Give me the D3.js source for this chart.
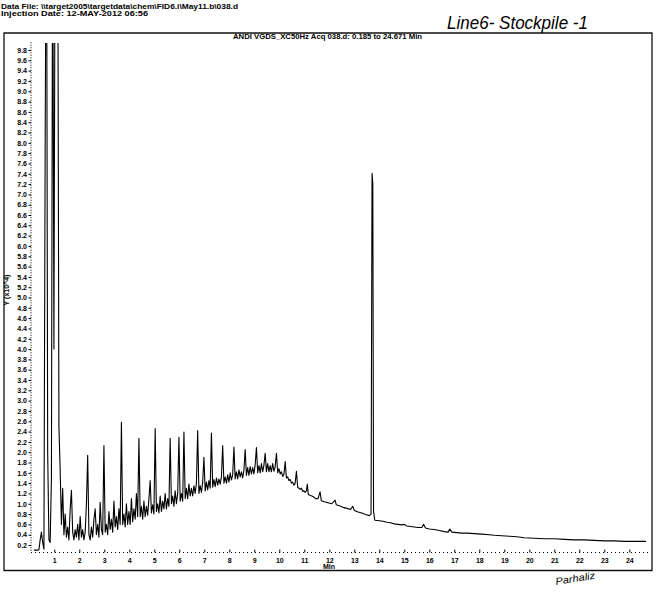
<!DOCTYPE html>
<html>
<head>
<meta charset="utf-8">
<script src="https://cdnjs.cloudflare.com/ajax/libs/d3/7.8.5/d3.min.js"></script>
<style>
body{margin:0;background:#fff;}
svg{display:block;font-family:"Liberation Sans",Arial,sans-serif;}
</style>
</head>
<body>
<div id="container"></div>
<script>
// header / labels
var headerLines = [
	'Data File: \\\\target2005\\targetdata\\chem\\FID6.i\\May11.b\\038.d',
	'Injection Date: 12-MAY-2012 06:56'
];
var runTitle = 'ANDI VGDS_XC50Hz Acq 038.d:  0.185 to 24.671 Min';
var sampleNote = 'Line6- Stockpile -1';
var signNote = 'Parhaliz';

// tick values
var yTicks = [0.2,0.4,0.6,0.8,1.0,1.2,1.4,1.6,1.8,2.0,2.2,2.4,2.6,2.8,3.0,3.2,3.4,3.6,3.8,4.0,
	4.2,4.4,4.6,4.8,5.0,5.2,5.4,5.6,5.8,6.0,6.2,6.4,6.6,6.8,7.0,7.2,7.4,7.6,7.8,8.0,
	8.2,8.4,8.6,8.8,9.0,9.2,9.4,9.6,9.8];
var xTicks = [1,2,3,4,5,6,7,8,9,10,11,12,13,14,15,16,17,18,19,20,21,22,23,24];

// early part of the run, one reading every 0.05 min from 0.185 (x10^4)
var earlyStart = 0.185, earlyStep = 0.05;
var earlyAbund = [
	0.10,0.10,0.10,0.10,0.11,0.30,0.45,0.25,0.12,8.00,
	14.0,2.00,0.30,0.25,1.50,13.0,4.00,13.0,12.0,13.0,
	2.50,1.65,0.60,1.30,0.40,0.80,0.35,0.55,0.30,0.90,
	1.26,0.45,0.30,0.50,0.35,0.60,0.30,0.75,0.35,0.50,
	0.30,0.45,1.00,1.94,0.40,0.30,0.55,0.35,0.70,0.90,
	0.40,0.60,0.35,1.03,0.50,0.40,2.13,0.45,0.60,0.40,
	0.85,0.50,0.70,0.45,1.05,0.55,0.75,0.50,0.90,0.60,
	2.58,0.60,0.80,0.55,1.00,0.60,0.85,0.60,1.10,0.65,
	0.90,0.70,1.20,0.75,2.27,0.75,0.95,0.70,1.05,0.75,
	0.95,0.78,1.10,1.45,0.82,0.98,0.80,2.46,0.85,1.00,
	0.82,1.15,0.85,1.05,0.90,1.20,0.90,1.10,0.95,2.27,
	1.00,1.15,0.95,1.25,1.00,1.20,2.29,1.05,1.20,1.05,
	2.39,1.10,1.30,1.10,1.38,1.15,1.30,1.15,1.35,1.20,
	1.40,2.42,1.20,1.35,1.22,1.42,1.90,1.25,1.42,1.27,
	1.45,1.30,2.37,1.32,1.47,1.33,1.50,1.36,1.48,1.38,
	1.52,2.13,1.40,1.52,1.40,1.56,1.42,1.60,1.46,1.56,
	2.10,1.48,1.62,1.48,1.66,1.52,1.62,1.50,1.66,2.05,
	1.55,1.70,1.55,1.72,1.58,1.70,1.58,1.76,2.09,1.60,
	1.74,1.60,1.78,1.62,1.75,1.98,1.62,1.78,1.62,1.74,
	1.62,1.78,1.63,1.72,1.98,1.60,1.68,1.58,1.62,1.53,
	1.57,1.82,1.50,1.52,1.45,1.47,1.40,1.42,1.36,1.40,
	1.63,1.32,1.30,1.28,1.30,1.24,1.25
];

// later part of the run, [min, abundance x10^4]
var lateTrace = [
	[11.035,1.22],[11.085,1.25],[11.12,1.38],[11.16,1.18],[11.25,1.16],[11.35,1.14],
	[11.45,1.10],[11.55,1.10],[11.63,1.23],[11.68,1.06],[11.80,1.04],[11.95,1.02],
	[12.10,1.00],[12.23,1.07],[12.28,0.98],[12.40,0.96],[12.55,0.93],[12.70,0.91],
	[12.85,0.89],[12.94,0.95],[13.00,0.87],[13.15,0.84],[13.30,0.82],[13.45,0.79],
	[13.60,0.77],[13.67,0.80],[13.71,7.41],[13.74,7.20],[13.77,0.85],[13.82,0.68],
	[14.00,0.67],[14.15,0.66],[14.30,0.64],[14.45,0.63],[14.60,0.61],[14.75,0.60],
	[14.90,0.59],[15.00,0.60],[15.10,0.57],[15.25,0.56],[15.40,0.55],[15.55,0.54],
	[15.70,0.54],[15.77,0.60],[15.85,0.53],[16.00,0.51],[16.20,0.50],[16.40,0.48],
	[16.60,0.46],[16.75,0.45],[16.82,0.51],[16.90,0.45],[17.10,0.44],[17.30,0.43],
	[17.50,0.43],[17.80,0.42],[18.10,0.41],[18.40,0.40],[18.60,0.39],[18.90,0.38],
	[19.20,0.37],[19.50,0.36],[19.80,0.34],[20.20,0.33],[20.60,0.32],[21.00,0.32],
	[21.40,0.31],[21.80,0.30],[22.20,0.30],[22.60,0.29],[23.00,0.28],[23.40,0.28],
	[23.80,0.27],[24.20,0.27],[24.671,0.27]
];

var init = function(){

	return {

		w:657,
		h:592,

		data:[],

		processData:function(){
			var self = vis;

			earlyAbund.forEach(function(v,i){
				self.data.push({ t:earlyStart +i*earlyStep, v:v });
			});
			lateTrace.forEach(function(d){
				self.data.push({ t:d[0], v:d[1] });
			});

			self.generate();
		},
		generate:function(){
			var self = vis;

			var x = d3.scaleLinear().domain([0,24]).range([29.3,629.3]),
				y = d3.scaleLinear().domain([0.2,9.8]).range([545,50]);

			self.svg = d3.select('#container').append('svg')
				.attr('width',self.w)
				.attr('height',self.h);

			// frame
			var frame = self.svg.append('g')
				.attr('fill','none')
				.attr('stroke','#111')
				.attr('stroke-width',1.3);
			frame.append('path').attr('d','M4,33H652V570.5H4Z');

			// header text
			self.svg.selectAll('text.header')
				.data(headerLines)
				.enter().append('text')
				.classed('header',true)
				.attr('x',1)
				.attr('y',function(d,i){ return 8.5 +i*7.8; })
				.attr('textLength',function(d,i){ return i ? 147 : 237; })
				.attr('lengthAdjust','spacingAndGlyphs')
				.style('font-size','7.5px')
				.style('font-weight','bold')
				.text(function(d){ return d; });

			self.svg.append('text')
				.attr('x',233)
				.attr('y',38.5)
				.attr('textLength',189)
				.attr('lengthAdjust','spacingAndGlyphs')
				.style('font-size','7px')
				.style('font-weight','bold')
				.text(runTitle);

			self.svg.append('text')
				.attr('x',447)
				.attr('y',29)
				.attr('textLength',141)
				.attr('lengthAdjust','spacingAndGlyphs')
				.style('font-size','18px')
				.style('font-style','italic')
				.text(sampleNote);

			self.svg.append('text')
				.attr('transform','translate(556,585) rotate(-9)')
				.attr('textLength',40)
				.attr('lengthAdjust','spacingAndGlyphs')
				.style('font-size','10px')
				.style('font-style','italic')
				.text(signNote);

			// axes
			var yAxis = d3.axisLeft(y)
				.tickValues(yTicks)
				.tickSize(2.5)
				.tickPadding(1.5)
				.tickFormat(d3.format('.1f'));
			var gy = self.svg.append('g')
				.attr('transform','translate(31,0)')
				.call(yAxis);
			gy.select('.domain').remove();
			gy.append('line')
				.attr('y1',y(9.95)).attr('y2',552)
				.attr('stroke','#000')
				.attr('stroke-dasharray','1,1.5');

			var xAxis = d3.axisBottom(x)
				.tickValues(xTicks)
				.tickSizeInner(-3)
				.tickSizeOuter(0)
				.tickPadding(6)
				.tickFormat(d3.format('d'));
			var gx = self.svg.append('g')
				.attr('transform','translate(0,552.5)')
				.call(xAxis);
			gx.select('.domain').remove();
			gx.append('line')
				.attr('x1',31).attr('x2',x(24.75))
				.attr('stroke','#000')
				.attr('stroke-dasharray','1,3');

			self.svg.selectAll('.tick text')
				.style('font-size','7px')
				.style('font-weight','bold')
				.attr('fill','#000');
			self.svg.selectAll('.tick line').attr('stroke','#000');

			self.svg.append('text')
				.attr('x',329)
				.attr('y',569)
				.attr('text-anchor','middle')
				.style('font-size','7px')
				.style('font-weight','bold')
				.text('Min');

			self.svg.append('text')
				.attr('transform','translate(9,290) rotate(-90)')
				.attr('text-anchor','middle')
				.style('font-size','7px')
				.style('font-weight','bold')
				.text('Y (x10^4)');

			// trace
			self.svg.append('clipPath').attr('id','plotclip')
				.append('rect')
				.attr('x',31).attr('y',43)
				.attr('width',620).attr('height',515);

			var line = d3.line()
				.x(function(d){ return x(d.t); })
				.y(function(d){ return y(d.v); });

			self.svg.append('path')
				.datum(self.data)
				.attr('clip-path','url(#plotclip)')
				.attr('d',line)
				.attr('fill','none')
				.attr('stroke','#000')
				.attr('stroke-width',1.1)
				.attr('stroke-linejoin','round');
		}
	}
}

var vis = init();
vis.processData();
</script>
</body>
</html>
